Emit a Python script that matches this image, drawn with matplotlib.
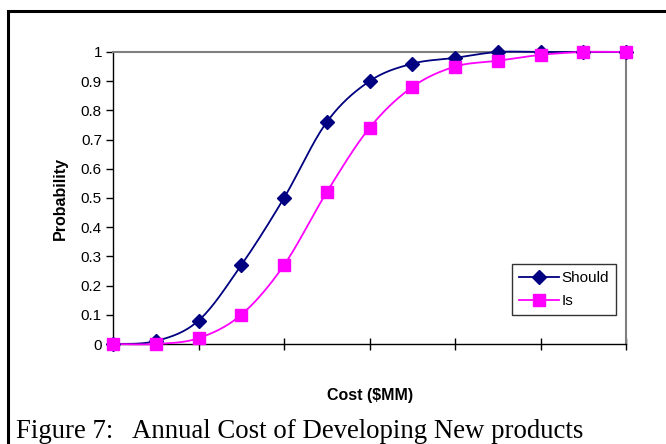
import numpy as np
import matplotlib.pyplot as plt
from matplotlib import patches

x_pts = list(range(13))
should = [0, 0.01, 0.08, 0.27, 0.5, 0.76, 0.9, 0.96, 0.98, 1.0, 1.0, 1.0, 1.0]
is_vals = [0, 0, 0.02, 0.1, 0.27, 0.52, 0.74, 0.88, 0.95, 0.97, 0.99, 1.0, 1.0]
y_ticks = [0, 0.1, 0.2, 0.3, 0.4, 0.5, 0.6, 0.7, 0.8, 0.9, 1]
y_ticklabels = ['0', '0.1', '0.2', '0.3', '0.4', '0.5', '0.6', '0.7', '0.8', '0.9', '1']


def smooth(xs, ys, n=20):
    # catmull-rom style bezier like excel's smoothed line
    xs = np.asarray(xs, float)
    ys = np.asarray(ys, float)
    px = np.concatenate([[xs[0]], xs, [xs[-1]]])
    py = np.concatenate([[ys[0]], ys, [ys[-1]]])
    out_x, out_y = [], []
    t = np.linspace(0, 1, n)
    for i in range(1, len(px) - 2):
        p0 = np.array([px[i], py[i]])
        p3 = np.array([px[i + 1], py[i + 1]])
        p1 = p0 + (np.array([px[i + 1], py[i + 1]]) - np.array([px[i - 1], py[i - 1]])) / 6
        p2 = p3 - (np.array([px[i + 2], py[i + 2]]) - np.array([px[i], py[i]])) / 6
        b = ((1 - t)[:, None] ** 3 * p0 + 3 * ((1 - t) ** 2 * t)[:, None] * p1
             + 3 * ((1 - t) * t ** 2)[:, None] * p2 + (t ** 3)[:, None] * p3)
        out_x.extend(b[:, 0])
        out_y.extend(b[:, 1])
    return out_x, out_y


plt.rcParams['font.family'] = ['Liberation Sans', 'DejaVu Sans']

fig = plt.figure(figsize=(6.66, 4.44), dpi=100)
ax = fig.add_axes([113 / 666, 1 - 344 / 444, (626 - 113) / 666, (344 - 52) / 444])

navy = '#000080'
magenta = '#FF00FF'

sx, sy = smooth(x_pts, should)
ax.plot(sx, sy, color=navy, lw=1.3, zorder=3, clip_on=False)
ax.plot(x_pts, should, ls='none', marker='D', ms=7, color=navy, zorder=4, clip_on=False)
ix, iy = smooth(x_pts, is_vals)
ax.plot(ix, iy, color=magenta, lw=1.3, zorder=3, clip_on=False)
ax.plot(x_pts, is_vals, ls='none', marker='s', ms=9, color=magenta, zorder=5, clip_on=False)

# legend proxies
ax.plot([], [], color=navy, lw=1.3, marker='D', ms=7, label='Should')
ax.plot([], [], color=magenta, lw=1.3, marker='s', ms=9, label='Is')

ax.set_xlim(0, 12)
ax.set_ylim(0, 1)
ax.set_xticks([0, 2, 4, 6, 8, 10, 12])
ax.set_xticklabels([])
ax.set_yticks(y_ticks)
ax.set_yticklabels(y_ticklabels, fontsize=11)
ax.tick_params(axis='x', direction='inout', length=8, width=1)
ax.tick_params(axis='y', direction='out', length=5, width=1, pad=3)

for s in ['top', 'right']:
    ax.spines[s].set_color('#808080')
    ax.spines[s].set_linewidth(1.5)
for s in ['left', 'bottom']:
    ax.spines[s].set_color('black')
    ax.spines[s].set_linewidth(1)
for s in ax.spines.values():
    s.set_zorder(2)

leg = ax.legend(loc='lower right', bbox_to_anchor=(616 / 666, 1 - 315 / 444),
                bbox_transform=fig.transFigure, frameon=True, fancybox=False,
                edgecolor='black', fontsize=11, handlelength=2.6, handletextpad=0.2,
                borderpad=0.45, labelspacing=0.6, borderaxespad=0)
leg.get_frame().set_linewidth(1)

fig.text(60 / 666, 1 - 198 / 444, 'Probability', rotation=90, ha='center', va='center',
         fontsize=11.5, fontweight='bold')
fig.text(370 / 666, 1 - 395 / 444, 'Cost ($MM)', ha='center', va='center',
         fontsize=11.5, fontweight='bold')
fig.text(16 / 666, 1 - 431 / 444, 'Figure 7:   Annual Cost of Developing New products',
         ha='left', va='center', fontsize=19.3, family='Liberation Serif')

frame = patches.Rectangle((8 / 666, -0.1), 1.1, 1 - 11 / 444 + 0.1, transform=fig.transFigure,
                          fill=False, edgecolor='black', lw=2.2, clip_on=False)
fig.patches.append(frame)

plt.savefig('out.png', dpi=100)
